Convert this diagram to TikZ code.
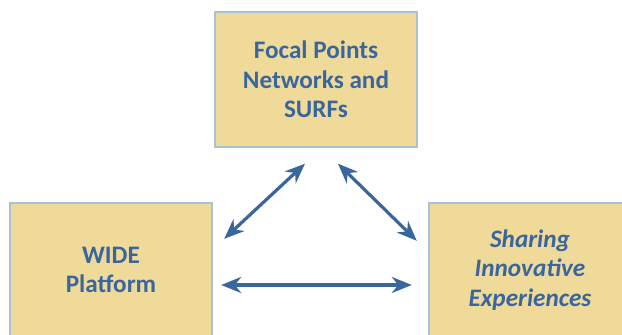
\documentclass[tikz,border=0pt]{standalone}
\usepackage{fontspec}
\setmainfont{Carlito}
\usepackage{tikz}
\usetikzlibrary{arrows.meta,positioning}
\definecolor{boxfill}{RGB}{240,218,154}
\definecolor{boxline}{RGB}{168,196,212}
\definecolor{inkblue}{RGB}{58,102,158}
\tikzset{
  block/.style = {draw=boxline, fill=boxfill, line width=1.2pt, minimum width=101pt,
                  align=center, text=inkblue, font=\fontsize{12.6}{14.8}\selectfont\bfseries},
  link/.style  = {{Stealth[length=10pt,width=8pt]}-{Stealth[length=10pt,width=8pt]},
                  draw=inkblue, line width=1.6pt},
}

\begin{document}
\begin{tikzpicture}[x=0.5pt,y=0.5pt]
\clip (0,0) rectangle (622,335);
\fill[white] (0,0) rectangle (622,335);

% ---------------- the three blocks -----------------------------------
\node[block, minimum height=67.5pt] (focal) at (316,255.5)
  {Focal Points\\Networks and\\SURFs};

\node[block, minimum height=67pt] (wide) at (111,65)
  {WIDE\\Platform};

\node[block, minimum height=67pt, font=\fontsize{12.6}{14.8}\selectfont\bfseries\itshape]
  (share) at (530,65)
  {Sharing\\Innovative\\Experiences};

% ---------------- links between them ---------------------------------
\draw[link] ([xshift=5.5pt,yshift=-18.5pt]wide.north east)
         -- ([xshift=-5.5pt,yshift=-7.75pt]focal.south);
\draw[link] ([xshift=11pt,yshift=-7.75pt]focal.south)
         -- ([xshift=-5.5pt,yshift=-19.5pt]share.north west);
\draw[link] ([xshift=4pt,yshift=-7.5pt]wide.east)
         -- ([xshift=-8pt,yshift=-7.5pt]share.west);

\end{tikzpicture}
\end{document}
